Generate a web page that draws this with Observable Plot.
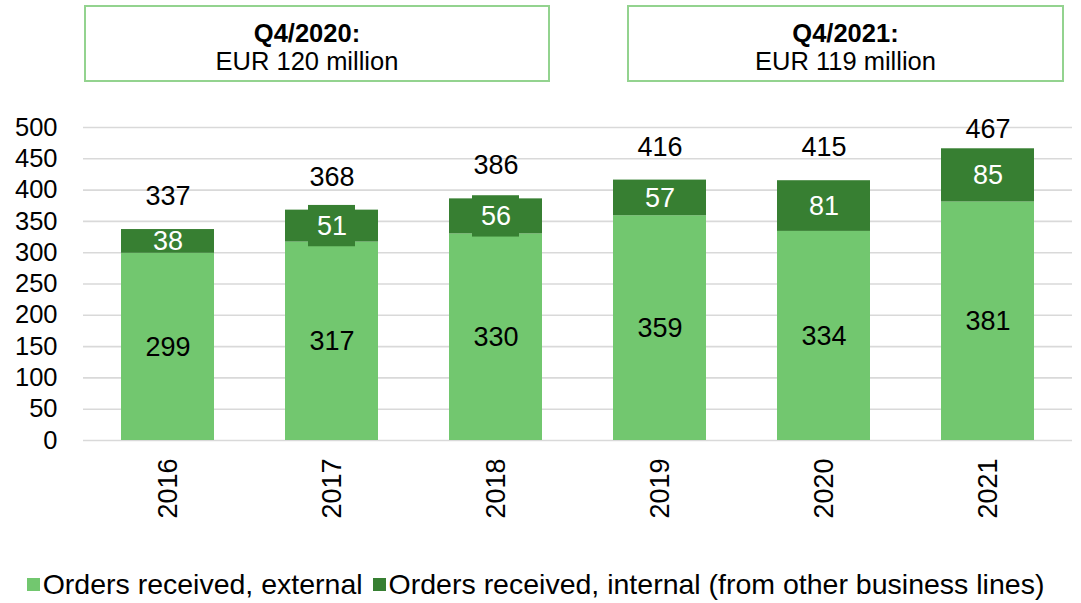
<!DOCTYPE html>
<html><head><meta charset="utf-8">
<script src="https://cdn.jsdelivr.net/npm/d3@7"></script>
<script src="https://cdn.jsdelivr.net/npm/@observablehq/plot@0.6"></script>
<style>
body{margin:0;background:#fff;font-family:"Liberation Sans",Arial,sans-serif;width:1081px;height:603px;overflow:hidden;position:relative;color:#000}
#header{position:relative;height:100px}
.box{position:absolute;top:5px;height:77px;border:2px solid #93d38f;box-sizing:border-box;text-align:center;font-size:25.5px;line-height:28px;padding-top:12px}
.box b{display:block}
#chart svg{display:block}
#legend{display:flex;justify-content:center;align-items:center;font-size:28.5px;margin-top:23px;white-space:nowrap}
#legend span.sw{display:inline-block;width:13px;height:13px;margin-right:3px}
#legend span.item{display:inline-flex;align-items:center;margin-right:10px}
</style>
</head><body>
<div id="header"></div>
<div id="chart"></div>
<div id="legend"></div>
<script>
const years = ["2016","2017","2018","2019","2020","2021"];
const external = [299, 317, 330, 359, 334, 381];
const internal = [38, 51, 56, 57, 81, 85];
const totals = [337, 368, 386, 416, 415, 467];
const yTicks = [0, 50, 100, 150, 200, 250, 300, 350, 400, 450, 500];
const seriesNames = ["Orders received, external", "Orders received, internal (from other business lines)"];
const seriesColors = ["#72c76f", "#377f32"];
const boxedYears = ["2017", "2018"];
const boxTitles = ["Q4/2020:", "Q4/2021:"];
const boxValues = ["EUR 120 million", "EUR 119 million"];

// header boxes
const boxPos = [{left: 84, width: 466, padRight: 20}, {left: 627, width: 437, padRight: 0}];
const header = document.getElementById("header");
boxTitles.forEach((t, i) => {
  const d = document.createElement("div");
  d.className = "box";
  d.style.left = boxPos[i].left + "px";
  d.style.width = boxPos[i].width + "px";
  d.style.paddingRight = boxPos[i].padRight + "px";
  d.innerHTML = `<b>${t}</b>${boxValues[i]}`;
  header.appendChild(d);
});

const rows = [];
years.forEach((y, i) => {
  rows.push({year: y, series: seriesNames[0], value: external[i]});
  rows.push({year: y, series: seriesNames[1], value: internal[i]});
});
const extLabels = years.map((y, i) => ({year: y, mid: external[i] / 2, text: String(external[i])}));
const intLabels = years.map((y, i) => ({year: y, mid: external[i] + internal[i] / 2, text: String(internal[i])}));
const labelBoxes = intLabels.filter(d => boxedYears.includes(d.year)).map(d => ({year: d.year, y1: d.mid - 33, y2: d.mid + 33}));
const totLabels = years.map((y, i) => ({year: y, y: Math.min(totals[i] + 53, 497), text: String(totals[i])}));

const chart = Plot.plot({
  width: 1081,
  height: 445,
  marginTop: 27,
  marginBottom: 105,
  marginLeft: 83,
  marginRight: 9,
  style: {fontFamily: '"Liberation Sans", Arial, sans-serif', fontSize: "25px", color: "#000", background: "#fff"},
  x: {domain: years, paddingInner: 0.43, paddingOuter: 0.215, label: null},
  y: {domain: [0, 500], label: null},
  color: {domain: seriesNames, range: seriesColors},
  marks: [
    Plot.gridY(yTicks, {stroke: "#d9d9d9", strokeOpacity: 1, strokeWidth: 1.6}),
    Plot.barY(rows, {x: "year", y: "value", fill: "series", order: seriesNames}),
    Plot.barY(labelBoxes, {x: "year", y1: "y1", y2: "y2", fill: seriesColors[1], insetLeft: 23, insetRight: 23}),
    Plot.text(extLabels, {x: "year", y: "mid", text: "text", fill: "#000", fontSize: 27}),
    Plot.text(intLabels, {x: "year", y: "mid", text: "text", fill: "#fff", fontSize: 27}),
    Plot.text(totLabels, {x: "year", y: "y", text: "text", fill: "#000", fontSize: 27}),
    Plot.axisY({ticks: yTicks, tickSize: 0, tickPadding: 26, fontSize: 25.5, label: null}),
    Plot.axisX({tickRotate: -90, tickSize: 0, tickPadding: 18, fontSize: 27, label: null})
  ]
});
document.getElementById("chart").appendChild(chart);

const legend = document.getElementById("legend");
seriesNames.forEach((n, i) => {
  const s = document.createElement("span");
  s.className = "item";
  s.innerHTML = `<span class="sw" style="background:${seriesColors[i]}"></span>${n}`;
  legend.appendChild(s);
});
</script>
</body></html>
